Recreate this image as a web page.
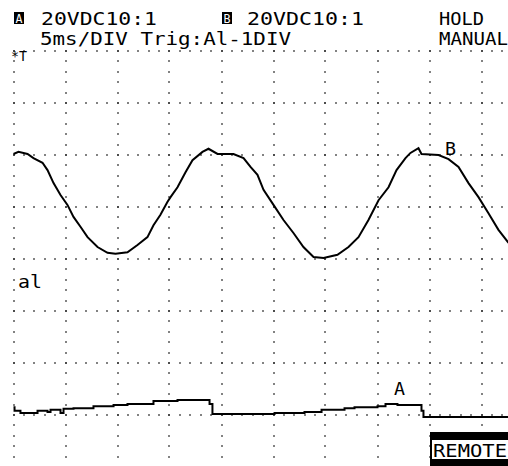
<!DOCTYPE html>
<html>
<head>
<meta charset="utf-8">
<script src="https://cdn.jsdelivr.net/npm/d3@7"></script>
<style>
  body { margin: 0; background: #fff; }
  svg { display: block; }
  text { font-family: 'DejaVu Sans Mono', monospace; fill: #000; }
</style>
</head>
<body>
<svg id="scope"></svg>
<script>
// scope settings (header texts)
const chA = '20VDC10:1',
  chB = '20VDC10:1',
  timebase = '5ms/DIV Trig:Al-1DIV',
  holdMode = 'HOLD',
  trigMode = 'MANUAL';

// trace B: time (ms) / position (div, 0 = screen centre)
const bTime = [0, 0.48, 1.35, 1.92, 2.79, 3.27, 3.85, 4.52, 5.19, 5.77, 6.44, 7.12, 8.08, 9.04, 9.81,
  10.96, 11.92, 12.88, 13.46, 14.13, 14.81, 15.1, 15.77, 16.54, 17.21, 18.17, 18.75, 19.62, 21.15,
  22.12, 22.79, 23.46, 24.04, 25, 25.96, 26.92, 27.88, 28.85, 29.81, 31.15, 32.21, 33.17, 34.13,
  35.1, 36.06, 36.83, 37.69, 38.17, 38.94, 39.23, 40.87, 41.83, 42.79, 43.75, 44.71, 45.67, 46.63, 47.6];
const bDiv = [2.02, 2.06, 2.02, 1.94, 1.85, 1.71, 1.46, 1.23, 1.04, 0.81, 0.62, 0.42, 0.23, 0.12, 0.1,
  0.13, 0.27, 0.42, 0.65, 0.85, 1.1, 1.19, 1.38, 1.67, 1.9, 2.06, 2.12, 2.02, 2.02,
  1.94, 1.77, 1.62, 1.33, 1.04, 0.75, 0.5, 0.23, 0.04, 0.02, 0.08, 0.23, 0.42, 0.75,
  1.13, 1.38, 1.71, 1.94, 2.04, 2.13, 2.02, 2.0, 1.92, 1.77, 1.46, 1.19, 0.88, 0.56, 0.31];

// trace A (stepped)
const aTime = [0, 0.1, 0.67, 2.12, 2.31, 3.27, 3.56, 4.23, 4.52, 4.81, 5.77, 7.69, 9.62, 10.96, 13.46,
  15.77, 18.65, 18.85, 19.13, 23.17, 25.1, 27.98, 29.62, 31.83, 32.79, 35, 35.77, 36.92, 39.04,
  39.23, 39.42, 47.6];
const aDiv = [-2.85, -2.92, -2.96, -2.96, -2.92, -2.94, -2.9, -2.9, -2.96, -2.88, -2.87, -2.83, -2.81, -2.79, -2.73,
  -2.71, -2.71, -2.79, -2.98, -2.98, -2.96, -2.94, -2.9, -2.87, -2.85, -2.83, -2.79, -2.81, -2.81,
  -2.92, -3.04, -3.04];

const width = 508,
  height = 466;

function createScope() {
  let svg = d3
    .select('#scope')
    .attr('width', width)
    .attr('height', height);
  svg
    .append('rect')
    .attr('width', width)
    .attr('height', height)
    .attr('fill', '#fff');
  return svg;
}

function drawGrid(svg, x, y) {
  let dots = [];
  // horizontal division lines, a dot every 1 ms
  d3.range(-3, 5).forEach(v => {
    d3.range(0, 51).forEach(t => dots.push([t, v]));
  });
  // vertical division lines, a dot every 0.2 div
  d3.range(0, 50, 5).forEach(t => {
    d3.range(0, 41).forEach(i => dots.push([t, 4 - i * 0.2]));
  });
  svg
    .append('g')
    .classed('grid', true)
    .selectAll('rect')
    .data(dots)
    .enter()
    .append('rect')
    .attr('x', d => Math.round(x(d[0])) - 0.75)
    .attr('y', d => Math.round(y(d[1])) - 0.75)
    .attr('width', 1.5)
    .attr('height', 1.5)
    .attr('fill', '#222');
}

function drawTraces(svg, x, y) {
  let lineB = d3
    .line()
    .x(d => x(d[0]))
    .y(d => y(d[1]));
  let lineA = d3
    .line()
    .curve(d3.curveStepAfter)
    .x(d => x(d[0]))
    .y(d => y(d[1]));
  svg
    .append('path')
    .datum(d3.zip(bTime, bDiv))
    .attr('d', lineB)
    .attr('fill', 'none')
    .attr('stroke', '#000')
    .attr('stroke-width', 2);
  svg
    .append('path')
    .datum(d3.zip(aTime, aDiv))
    .attr('d', lineA)
    .attr('fill', 'none')
    .attr('stroke', '#000')
    .attr('stroke-width', 2);
}

function addText(svg, str, px, py, len, size) {
  let t = svg
    .append('text')
    .attr('x', px)
    .attr('y', py)
    .style('font-size', (size || 18) + 'px')
    .text(str);
  if (len) t.attr('textLength', len).attr('lengthAdjust', 'spacingAndGlyphs');
  return t;
}

function chanBox(svg, label, px, py) {
  svg
    .append('rect')
    .attr('x', px)
    .attr('y', py)
    .attr('width', 10)
    .attr('height', 12)
    .attr('fill', '#000');
  addText(svg, label, px + 1.5, py + 10.5, 7, 12).style('fill', '#fff');
}

function drawLabels(svg) {
  chanBox(svg, 'A', 14, 12);
  addText(svg, chA, 41, 25, 116);
  chanBox(svg, 'B', 222, 12);
  addText(svg, chB, 247, 25, 117);
  addText(svg, holdMode, 439, 25, 45);
  addText(svg, timebase, 40, 45, 251);
  addText(svg, trigMode, 439, 45, 69);
  addText(svg, '*T', 11, 61, 16, 14);

  addText(svg, 'B', 445, 155, 11);
  addText(svg, 'al', 18, 288, 24);
  addText(svg, 'A', 394, 395, 11);

  svg
    .append('rect')
    .attr('x', 430)
    .attr('y', 432)
    .attr('width', 78)
    .attr('height', 34)
    .attr('fill', '#000');
  svg
    .append('rect')
    .attr('x', 432)
    .attr('y', 440)
    .attr('width', 76)
    .attr('height', 19)
    .attr('fill', '#fff');
  addText(svg, 'REMOTE', 433, 457, 74);
}

let svg = createScope(),
  x = d3
    .scaleLinear()
    .domain([0, 50])
    .range([13.5, 533.5]),
  y = d3
    .scaleLinear()
    .domain([4, -4])
    .range([51, 467]);

drawGrid(svg, x, y);
drawTraces(svg, x, y);
drawLabels(svg);
</script>
</body>
</html>
